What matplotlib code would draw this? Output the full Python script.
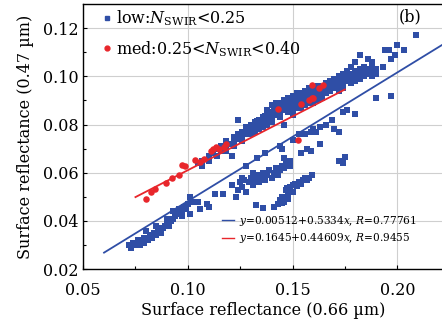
import numpy as np
import matplotlib
matplotlib.use('Agg')
import matplotlib.pyplot as plt
from matplotlib.lines import Line2D

plt.rcParams['font.family'] = ['DejaVu Serif']
plt.rcParams['mathtext.fontset'] = 'dejavuserif'

# low: N_SWIR < 0.25 (blue squares)
low_x = [
    # lower-left band
    0.072, 0.073, 0.074, 0.075, 0.076, 0.077, 0.078, 0.079, 0.080, 0.081, 0.082, 0.083,
    0.084, 0.085, 0.086, 0.087, 0.088, 0.089, 0.090, 0.091, 0.092, 0.093, 0.094, 0.095,
    0.096, 0.097, 0.098, 0.099, 0.100, 0.101, 0.102, 0.105, 0.106, 0.109, 0.110, 0.076,
    0.079, 0.080, 0.085, 0.087, 0.090, 0.093, 0.097, 0.101,
    # upper band
    0.105, 0.107, 0.107, 0.110, 0.110, 0.112, 0.114, 0.114, 0.116, 0.116, 0.118, 0.118,
    0.118, 0.120, 0.121, 0.122, 0.122, 0.122, 0.124, 0.124, 0.124, 0.126, 0.126, 0.126,
    0.128, 0.128, 0.128, 0.130, 0.130, 0.130, 0.132, 0.132, 0.132, 0.134, 0.134, 0.134,
    0.136, 0.136, 0.136, 0.138, 0.138, 0.138, 0.138, 0.140, 0.140, 0.140, 0.140, 0.142,
    0.142, 0.142, 0.142, 0.144, 0.144, 0.144, 0.144, 0.146, 0.146, 0.146, 0.146, 0.148,
    0.148, 0.148, 0.148, 0.150, 0.150, 0.150, 0.150, 0.150, 0.152, 0.152, 0.152, 0.152,
    0.154, 0.154, 0.154, 0.154, 0.156, 0.156, 0.156, 0.156, 0.158, 0.158, 0.158, 0.158,
    0.160, 0.160, 0.160, 0.160, 0.162, 0.162, 0.162, 0.162, 0.164, 0.164, 0.164, 0.166,
    0.166, 0.166, 0.168, 0.168, 0.168, 0.170, 0.170, 0.170, 0.172, 0.172, 0.172, 0.172,
    0.174, 0.174, 0.174, 0.174, 0.176, 0.176, 0.176, 0.178, 0.178, 0.178, 0.178, 0.180,
    0.180, 0.180, 0.180, 0.182, 0.182, 0.182, 0.182, 0.184, 0.184, 0.184, 0.186, 0.186,
    0.186, 0.188, 0.188, 0.188, 0.188, 0.190, 0.190, 0.193, 0.194, 0.197, 0.196, 0.199,
    0.200, 0.203, 0.209, 0.190, 0.197,
    0.131, 0.135, 0.139, 0.143, 0.147, 0.151, 0.155, 0.159, 0.163, 0.167, 0.171, 0.175,
    0.133, 0.137, 0.141, 0.145, 0.149, 0.153, 0.157, 0.161, 0.165, 0.169, 0.173, 0.177,
    # middle band
    0.113, 0.117, 0.121, 0.123, 0.124, 0.125, 0.126, 0.127, 0.128, 0.129, 0.130, 0.131,
    0.132, 0.133, 0.134, 0.135, 0.136, 0.137, 0.138, 0.139, 0.140, 0.141, 0.142, 0.143,
    0.144, 0.145, 0.146, 0.147, 0.148, 0.149, 0.128, 0.133, 0.137, 0.144, 0.146, 0.145,
    0.149, 0.126, 0.131,
    # middle-right group
    0.156, 0.159, 0.157, 0.159, 0.154, 0.163, 0.161, 0.160, 0.163, 0.166, 0.169, 0.170,
    0.172, 0.174, 0.176, 0.180, 0.150, 0.153, 0.172, 0.174, 0.175,
    # lowest right band
    0.1325, 0.136, 0.141, 0.144, 0.145, 0.146, 0.147, 0.148, 0.149, 0.150, 0.151, 0.152,
    0.153, 0.154, 0.155, 0.156, 0.157, 0.158, 0.1595, 0.145, 0.148, 0.150, 0.1475, 0.143,
]
low_y = [
    0.030, 0.029, 0.031, 0.030, 0.031, 0.030, 0.032, 0.031, 0.033, 0.032, 0.034, 0.033,
    0.035, 0.034, 0.036, 0.035, 0.037, 0.038, 0.039, 0.038, 0.040, 0.041, 0.042, 0.043,
    0.045, 0.044, 0.046, 0.045, 0.047, 0.043, 0.048, 0.048, 0.045, 0.047, 0.046, 0.032,
    0.033, 0.036, 0.038, 0.037, 0.041, 0.044, 0.042, 0.050,
    0.064, 0.065, 0.063, 0.067, 0.065, 0.068, 0.067, 0.070, 0.069, 0.071, 0.071, 0.069,
    0.073, 0.072, 0.067, 0.073, 0.071, 0.075, 0.074, 0.076, 0.082, 0.075, 0.077, 0.073,
    0.076, 0.079, 0.077, 0.078, 0.080, 0.076, 0.079, 0.081, 0.077, 0.080, 0.082, 0.078,
    0.081, 0.083, 0.079, 0.082, 0.084, 0.080, 0.086, 0.083, 0.085, 0.088, 0.081, 0.084,
    0.086, 0.088, 0.089, 0.085, 0.087, 0.089, 0.083, 0.086, 0.088, 0.090, 0.080, 0.087,
    0.089, 0.091, 0.085, 0.088, 0.090, 0.092, 0.086, 0.084, 0.089, 0.091, 0.093, 0.087,
    0.089, 0.091, 0.093, 0.087, 0.090, 0.092, 0.094, 0.088, 0.091, 0.093, 0.095, 0.089,
    0.091, 0.093, 0.095, 0.089, 0.092, 0.094, 0.096, 0.090, 0.093, 0.095, 0.091, 0.093,
    0.095, 0.097, 0.094, 0.096, 0.098, 0.095, 0.097, 0.099, 0.096, 0.098, 0.100, 0.094,
    0.097, 0.099, 0.101, 0.095, 0.098, 0.100, 0.102, 0.099, 0.101, 0.097, 0.104, 0.100,
    0.102, 0.098, 0.106, 0.101, 0.103, 0.099, 0.109, 0.102, 0.104, 0.100, 0.103, 0.101,
    0.107, 0.102, 0.104, 0.100, 0.106, 0.103, 0.101, 0.104, 0.111, 0.107, 0.111, 0.109,
    0.113, 0.111, 0.117, 0.091, 0.092,
    0.0785, 0.0805, 0.0825, 0.0845, 0.0865, 0.0885, 0.0905, 0.0915, 0.0935, 0.0945, 0.0965, 0.0985,
    0.0815, 0.0835, 0.0855, 0.0875, 0.0895, 0.0905, 0.0925, 0.0945, 0.0955, 0.0975, 0.0985, 0.1005,
    0.051, 0.051, 0.055, 0.050, 0.053, 0.056, 0.054, 0.057, 0.052, 0.056, 0.058, 0.055,
    0.057, 0.059, 0.056, 0.058, 0.060, 0.057, 0.059, 0.061, 0.058, 0.060, 0.062, 0.059,
    0.061, 0.063, 0.062, 0.064, 0.065, 0.063, 0.063, 0.066, 0.068, 0.071, 0.066, 0.070,
    0.065, 0.058, 0.060,
    0.076, 0.077, 0.070, 0.069, 0.068, 0.072, 0.077, 0.078, 0.079, 0.080, 0.082, 0.078,
    0.077, 0.085, 0.086, 0.0845, 0.0735, 0.076, 0.065, 0.064, 0.0666,
    0.0466, 0.0452, 0.046, 0.0487, 0.050, 0.048, 0.0528, 0.051, 0.054, 0.052, 0.0555, 0.0545,
    0.056, 0.0555, 0.057, 0.0577, 0.0568, 0.058, 0.059, 0.0473, 0.049, 0.055, 0.0535, 0.047,
]

# med: 0.25 < N_SWIR < 0.40 (red dots)
med_x = [0.0802, 0.0825, 0.0841, 0.0897, 0.0924, 0.096, 0.0973, 0.0987, 0.1035, 0.1056,
         0.1075, 0.111, 0.112, 0.1135, 0.115, 0.1175, 0.1183, 0.1433, 0.1524, 0.154,
         0.158, 0.1595, 0.160, 0.1595, 0.1624, 0.1646]
med_y = [0.0491, 0.0519, 0.0531, 0.0556, 0.0577, 0.059, 0.0632, 0.063, 0.0652, 0.0643,
         0.0655, 0.069, 0.0698, 0.0708, 0.070, 0.0708, 0.0719, 0.0866, 0.0735, 0.0884,
         0.090, 0.0908, 0.091, 0.0963, 0.0953, 0.0963]

# fit lines (intercept, slope, x range)
low_fit = (-0.00512, 0.5334, 0.06, 0.23)
med_fit = (0.01645, 0.44609, 0.075, 0.175)

blue = '#2f4ea6'
red = '#e8262b'

fig = plt.figure(figsize=(4.42, 3.24), dpi=100)
ax = fig.add_axes([0.188, 0.169, 0.815, 0.819])

ax.scatter(low_x, low_y, marker='s', s=16, color=blue, linewidths=0, zorder=3)
ax.scatter(med_x, med_y, marker='o', s=22, color=red, linewidths=0, zorder=4)

xl = np.array(low_fit[2:])
ax.plot(xl, low_fit[0] + low_fit[1] * xl, color=blue, lw=1.3, zorder=5)
xm = np.array(med_fit[2:])
ax.plot(xm, med_fit[0] + med_fit[1] * xm, color=red, lw=1.3, zorder=5)

ax.set_xlim(0.05, 0.222)
ax.set_ylim(0.02, 0.13)
ax.set_xticks([0.05, 0.10, 0.15, 0.20])
ax.set_xticklabels(['0.05', '0.10', '0.15', '0.20'])
ax.set_yticks([0.02, 0.04, 0.06, 0.08, 0.10, 0.12])
ax.set_yticklabels(['0.02', '0.04', '0.06', '0.08', '0.10', '0.12'])
ax.set_xticks(np.arange(0.075, 0.22, 0.05), minor=True)
ax.set_yticks(np.arange(0.03, 0.13, 0.02), minor=True)
ax.tick_params(which='both', direction='in', labelsize=11.5, length=3, width=0.8)
ax.tick_params(axis='x', pad=9)
ax.tick_params(which='minor', length=2)
ax.grid(True, which='major', color='#cfcfcf', lw=0.8)
ax.set_axisbelow(True)
ax.spines['right'].set_visible(False)
for s in ['left', 'top', 'bottom']:
    ax.spines[s].set_linewidth(1.0)

ax.set_xlabel('Surface reflectance (0.66 µm)', fontsize=11.5, labelpad=2)
ax.set_ylabel('Surface reflectance (0.47 µm)', fontsize=11.5, labelpad=6)

h1 = Line2D([], [], marker='s', color=blue, ls='none', markersize=3.5)
h2 = Line2D([], [], marker='o', color=red, ls='none', markersize=3.5)
leg1 = ax.legend([h1, h2], [r'low:$N_{\mathrm{SWIR}}$<0.25', r'med:0.25<$N_{\mathrm{SWIR}}$<0.40'],
                 loc='upper left', bbox_to_anchor=(0.03, 1.02), frameon=False, fontsize=11.5,
                 handlelength=0.5, handletextpad=0.3, labelspacing=0.7, borderaxespad=0.2)
ax.add_artist(leg1)

l1 = Line2D([], [], color=blue, lw=1.0)
l2 = Line2D([], [], color=red, lw=1.0)
ax.legend([l1, l2], [r'$y$=0.00512+0.5334$x$, $R$=0.77761', r'$y$=0.1645+0.44609$x$, $R$=0.9455'],
          loc='lower left', bbox_to_anchor=(0.37, 0.07), frameon=False, fontsize=7.6,
          handlelength=1.2, handletextpad=0.4, labelspacing=0.35, borderaxespad=0.1)

ax.text(0.206, 0.1245, '(b)', fontsize=11.5, ha='center', va='center')

fig.savefig('out.png', dpi=100)
